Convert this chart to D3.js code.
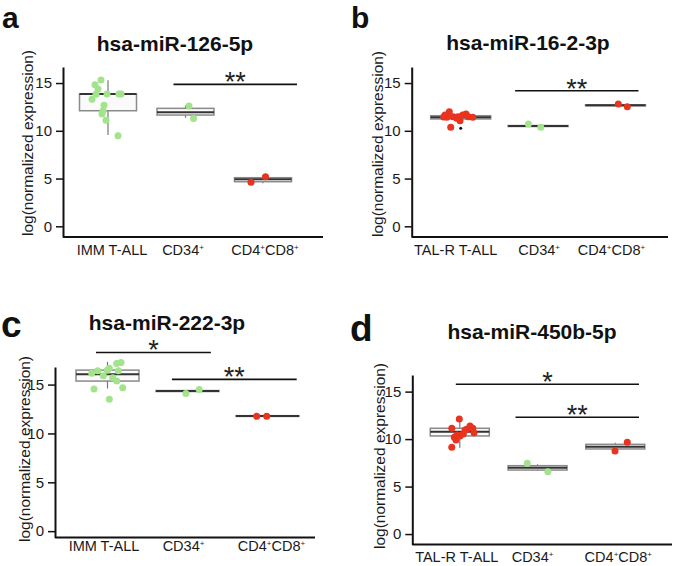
<!DOCTYPE html>
<html><head><meta charset="utf-8">
<script src="https://cdn.jsdelivr.net/npm/d3@7"></script>
<style>html,body{margin:0;padding:0;background:#fff;}svg{display:block;}</style>
</head><body>
<svg id="chart" width="675" height="566"></svg>
<script>
// ---------------- DATA ----------------
const titles = ["hsa-miR-126-5p", "hsa-miR-16-2-3p", "hsa-miR-222-3p", "hsa-miR-450b-5p"];
const panelLetters = ["a", "b", "c", "d"];
const categoriesA = ["IMM T-ALL", "CD34+", "CD4+CD8+"];
const categoriesB = ["TAL-R T-ALL", "CD34+", "CD4+CD8+"];
const categoriesC = ["IMM T-ALL", "CD34+", "CD4+CD8+"];
const categoriesD = ["TAL-R T-ALL", "CD34+", "CD4+CD8+"];
const yTicks = [0, 5, 10, 15];
const yLabel = "log(normalized expression)";

// point values per group
const pointsA = [
  [15.32, 14.83, 14.38, 13.82, 13.30, 13.85, 13.85, 13.85, 12.67, 12.10, 11.76, 11.10, 9.49],
  [12.59, 11.30],
  [4.60, 5.20]
];
const pointsB = [
  [12.00, 11.65, 11.41, 11.48, 11.31, 11.06, 11.65, 11.76, 11.48, 11.41, 11.48, 10.37, 11.45],
  [10.71, 10.37],
  [12.81, 12.53]
];
const pointsC = [
  [16.15, 16.41, 15.90, 16.48, 16.66, 17.17, 17.27, 16.41, 15.70, 15.36, 14.67, 14.54, 13.49],
  [14.10, 14.51],
  [11.75, 11.75]
];
const pointsD = [
  [12.12, 11.14, 10.43, 10.33, 10.54, 10.19, 9.91, 11.03, 11.38, 11.14, 10.67, 9.14, 10.96],
  [7.45, 6.57],
  [8.75, 9.66]
];
// box summaries per group: [low whisker, q1, median, q3, high whisker]
const boxesA = [[9.55, 12.10, 13.85, 13.85, 15.30], [11.35, 11.65, 11.95, 12.35, 12.65], [4.50, 4.67, 4.92, 5.09, 5.37]];
const boxesB = [[11.24, 11.24, 11.41, 11.58, 11.58], [10.50, 10.45, 10.50, 10.55, 10.50], [12.67, 12.62, 12.67, 12.72, 12.67]];
const boxesC = [[14.60, 15.36, 16.07, 16.48, 17.33], [14.34, 14.29, 14.34, 14.39, 14.34], [11.78, 11.74, 11.78, 11.82, 11.78]];
const boxesD = [[9.10, 10.33, 10.78, 11.14, 12.00], [6.65, 6.74, 6.99, 7.20, 7.35], [8.85, 8.96, 9.20, 9.45, 9.62]];
// outlier marks (small black dots)
const outliersB = [[0, 10.26]];
// significance: [from group, to group, y value, label]
const sigA = [[1, 2, 14.86, "**"]];
const sigB = [[1, 2, 14.20, "**"]];
const sigC = [[0, 1, 18.29, "*"], [1, 2, 15.53, "**"]];
const sigD = [[0, 2, 15.77, "*"], [1, 2, 12.30, "**"]];
const groupColorsA = ["green", "green", "red"];
const groupColorsB = ["red", "green", "red"];
const groupColorsC = ["green", "green", "red"];
const groupColorsD = ["red", "green", "red"];

// ---------------- LAYOUT / STYLE ----------------
const COLORS = {green: "#a3e38c", red: "#e8331f"};
const FONT = "'Liberation Sans', Arial, Helvetica, sans-serif";
// jitter offsets (px) per point, layout only
const jitterA = [[-7, -13, -10, -12, -16, -1, 11, 13, -4, -5, -6, -2, 10], [3.5, 8], [-12, 2.5]];
const jitterB = [[-11.4, -15.7, -14, -7.4, -4, -0.7, 2, 5.3, 7.6, 12, -2.7, -10, -17], [-9.7, 2.7], [2.8, 11.8]];
const jitterC = [[-15.8, -9.8, -4.2, -0.2, 1.8, 9.2, 13.5, 10.8, 5.2, 9.2, 15.2, -13.5, 1.8], [-1.6, 11.7], [-10.8, -0.8]];
const jitterD = [[-0.5, -8, -3, 0.2, 3.5, -5.5, -3.8, 7, 10.2, 13, 14.2, -8, 5.2], [-10.3, 10.3], [-0.3, 12]];

const panels = [
  {cats: categoriesA, pts: pointsA, boxes: boxesA, sig: sigA, cols: groupColorsA, jit: jitterA, out: [],
   left: 63, right: 323, top: 67, bottom: 237, yDom: [-1.12, 16.68], cx: [108, 263], bw: 57,
   titleX: 175, titleY: 51, letter: [2, 27.5], letterSize: 30, ylabX: 28, ylabY: 143, catY: 255,
   catOff: [4, -2.5, 2], sigOff: [[-12, 34]]},
  {cats: categoriesB, pts: pointsB, boxes: boxesB, sig: sigB, cols: groupColorsB, jit: jitterB, out: outliersB,
   left: 411.7, right: 668, top: 67, bottom: 237, yDom: [-1.12, 16.68], cx: [460.7, 615.5], bw: 60,
   titleX: 528, titleY: 50, letter: [351, 27.5], letterSize: 30, ylabX: 378, ylabY: 144, catY: 255,
   catOff: [-5, 1, -4], sigOff: [[-23, 23]]},
  {cats: categoriesC, pts: pointsC, boxes: boxesC, sig: sigC, cols: groupColorsC, jit: jitterC, out: [],
   left: 55, right: 315, top: 367, bottom: 537.5, yDom: [-0.65, 16.8], cx: [107.5, 267.5], bw: 63,
   titleX: 167, titleY: 330, letter: [1, 337], letterSize: 37, ylabX: 25, ylabY: 449, catY: 551,
   catOff: [-3.5, -4, 4], sigOff: [[-11.5, 23.4], [-15.6, 29.2]]},
  {cats: categoriesD, pts: pointsD, boxes: boxesD, sig: sigD, cols: groupColorsD, jit: jitterD, out: [],
   left: 412.3, right: 672, top: 375, bottom: 544.5, yDom: [-1.1, 16.75], cx: [459.8, 615.3], bw: 59,
   titleX: 532, titleY: 339, letter: [350, 341], letterSize: 37, ylabX: 380, ylabY: 456, catY: 562,
   catOff: [-3, -5, 3], sigOff: [[-4, 23.7], [-22, 23.7]]}
];

const svg = d3.select("#chart");

function labelWithSup(sel, label, supSize) {
  const parts = label.split(/(\+)/).filter(s => s.length);
  let up = false;
  parts.forEach(p => {
    if (p === "+") {
      sel.append("tspan").attr("font-size", supSize).attr("dy", up ? 0 : -5).text("+");
      up = true;
    } else {
      sel.append("tspan").attr("dy", up ? 5 : 0).text(p);
      up = false;
    }
  });
}

panels.forEach((P, pi) => {
  const g = svg.append("g");
  const y = d3.scaleLinear().domain(P.yDom).range([P.bottom, P.top]);
  const x = d3.scalePoint().domain(P.cats).range(P.cx);

  // panel letter
  g.append("text").attr("x", P.letter[0]).attr("y", P.letter[1])
    .attr("font-family", FONT).attr("font-weight", "bold").attr("font-size", P.letterSize)
    .attr("fill", "#111").text(panelLetters[pi]);
  // title
  g.append("text").attr("x", P.titleX).attr("y", P.titleY).attr("text-anchor", "middle")
    .attr("font-family", FONT).attr("font-weight", "bold").attr("font-size", 21)
    .attr("fill", "#111").text(titles[pi]);

  // y axis
  const ax = g.append("g").attr("transform", `translate(${P.left},0)`)
    .call(d3.axisLeft(y).tickValues(yTicks).tickSize(7).tickSizeOuter(0).tickPadding(4));
  ax.select(".domain").attr("stroke", "#111").attr("stroke-width", 2);
  ax.selectAll(".tick line").attr("stroke", "#111").attr("stroke-width", 1.5);
  ax.selectAll(".tick text").attr("font-family", FONT).attr("font-size", 15).attr("fill", "#1a1a1a");

  // x axis line
  g.append("line").attr("x1", P.left).attr("x2", P.right).attr("y1", P.bottom).attr("y2", P.bottom)
    .attr("stroke", "#111").attr("stroke-width", 2);

  // y label
  g.append("text").attr("transform", `translate(${P.ylabX},${P.ylabY}) rotate(-90)`)
    .attr("text-anchor", "middle").attr("dy", "0.35em")
    .attr("font-family", FONT).attr("font-size", 15.5).attr("fill", "#1a1a1a").text(yLabel);

  // category labels
  P.cats.forEach((c, i) => {
    const t = g.append("text").attr("x", x(c) + P.catOff[i]).attr("y", P.catY).attr("text-anchor", "middle")
      .attr("font-family", FONT).attr("font-size", 14.5).attr("fill", "#1a1a1a");
    labelWithSup(t, c, 8);
  });

  // boxes
  P.boxes.forEach((b, i) => {
    const cx = x(P.cats[i]);
    const [lo, q1, med, q3, hi] = b;
    g.append("line").attr("x1", cx).attr("x2", cx).attr("y1", y(lo)).attr("y2", y(hi))
      .attr("stroke", "#777").attr("stroke-width", 1.2);
    g.append("rect").attr("x", cx - P.bw / 2).attr("width", P.bw)
      .attr("y", y(q3)).attr("height", Math.max(0.5, y(q1) - y(q3)))
      .attr("fill", "#fafafa").attr("stroke", "#8a8a8a").attr("stroke-width", 1.5);
    g.append("line").attr("x1", cx - P.bw / 2).attr("x2", cx + P.bw / 2).attr("y1", y(med)).attr("y2", y(med))
      .attr("stroke", "#333").attr("stroke-width", 2);
  });

  // outliers
  P.out.forEach(o => {
    g.append("circle").attr("cx", x(P.cats[o[0]])).attr("cy", y(o[1])).attr("r", 1.5).attr("fill", "#111");
  });

  // points
  P.pts.forEach((arr, i) => {
    const cx = x(P.cats[i]);
    g.selectAll(null).data(arr).enter().append("circle")
      .attr("cx", (d, j) => cx + P.jit[i][j]).attr("cy", d => y(d)).attr("r", 3.5)
      .attr("fill", COLORS[P.cols[i]]);
  });

  // significance bars
  P.sig.forEach((s, k) => {
    const x1 = x(P.cats[s[0]]) + P.sigOff[k][0];
    const x2 = x(P.cats[s[1]]) + P.sigOff[k][1];
    const yy = y(s[2]);
    g.append("line").attr("x1", x1).attr("x2", x2).attr("y1", yy).attr("y2", yy)
      .attr("stroke", "#111").attr("stroke-width", 1.6);
    g.append("text").attr("x", (x1 + x2) / 2).attr("y", yy + 7).attr("text-anchor", "middle")
      .attr("font-family", FONT).attr("font-size", 27).attr("fill", "#222").text(s[3]);
  });
});
</script>
</body></html>
